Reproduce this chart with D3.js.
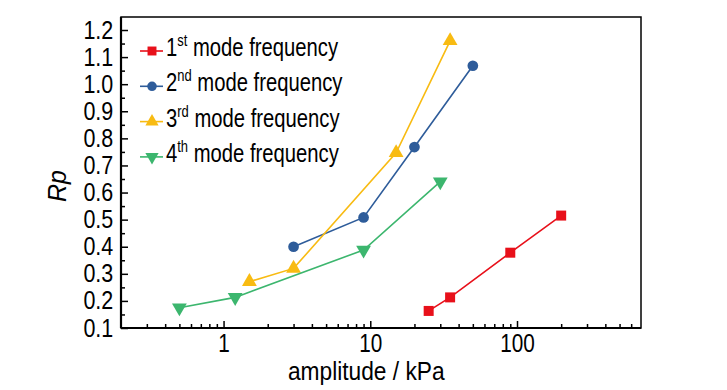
<!DOCTYPE html>
<meta charset="utf-8">
<style>
body { margin: 0; background: #fff; }
text { font-family: "Liberation Sans", Arial, sans-serif; fill: #000; }
.frame { fill: none; stroke: #000; stroke-width: 1.5px; }
.axis path { display: none; }
.axis line { stroke: #000; stroke-width: 1.5px; }
</style>
<body>
<script src="https://cdnjs.cloudflare.com/ajax/libs/d3/7.8.5/d3.min.js"></script>
<script>

// data
var seriesOrd = ["1", "2", "3", "4"];
var seriesSup = ["st", "nd", "rd", "th"];
var colors = ["#e8101a", "#2e5c9a", "#f8bb12", "#3cb66e"];

var amp1 = [25, 35, 90, 200];
var rp1  = [0.163, 0.213, 0.378, 0.515];
var amp2 = [3, 9, 20, 50];
var rp2  = [0.40, 0.508, 0.768, 1.068];
var amp3 = [1.5, 3, 15, 35];
var rp3  = [0.271, 0.320, 0.747, 1.160];
var amp4 = [0.5, 1.2, 9, 30];
var rp4  = [0.175, 0.213, 0.388, 0.640];

var xTickVals = [1, 10, 100];
var yTickVals = [0.1, 0.2, 0.3, 0.4, 0.5, 0.6, 0.7, 0.8, 0.9, 1.0, 1.1, 1.2];

var width = 727, height = 390;
var margin = {left: 121, top: 17, right: 86, bottom: 62};
var w = width - margin.left - margin.right,
    h = height - margin.top - margin.bottom;

// the original uses a narrow face, squeeze the text a bit
var squeeze = 0.86;

var svg = d3.select("body").append("svg")
    .attr("width", width)
    .attr("height", height);

var g = svg.append("g")
    .attr("transform", "translate(" + margin.left + "," + margin.top + ")");

var x = d3.scaleLog().domain([0.2, 700]).range([0, w]);
var y = d3.scaleLinear().domain([0.1, 1.248]).range([h, 0]);

// minor ticks
var xMinor = [];
[0.1, 1, 10, 100].forEach(function(d) {
  for (var k = 2; k <= 9; k++) {
    var v = d * k;
    if (v > 0.2 && v < 700) xMinor.push(v);
  }
});
var yMinor = d3.range(0.15, 1.25, 0.1);

g.append("g").attr("class", "axis")
    .attr("transform", "translate(0," + h + ")")
    .call(d3.axisBottom(x).tickValues(xMinor).tickSize(-4).tickFormat(""));
g.append("g").attr("class", "axis")
    .attr("transform", "translate(0," + h + ")")
    .call(d3.axisBottom(x).tickValues(xTickVals).tickSize(-7).tickPadding(6)
      .tickFormat(d3.format("d")))
    .selectAll("text")
      .style("font-size", "25px")
      .attr("transform", "scale(" + (squeeze - 0.03) + ",1)");

g.append("g").attr("class", "axis")
    .call(d3.axisLeft(y).tickValues(yMinor).tickSize(-4).tickFormat(""));
g.append("g").attr("class", "axis")
    .call(d3.axisLeft(y).tickValues(yTickVals).tickSize(-7).tickPadding(9)
      .tickFormat(d3.format(".1f")))
    .selectAll("text")
      .style("font-size", "25px")
      .attr("transform", "scale(" + squeeze + ",1)");

g.append("rect")
    .attr("class", "frame")
    .attr("width", w)
    .attr("height", h);
g.append("line").attr("x1", 0).attr("x2", 0).attr("y1", 0).attr("y2", h)
    .attr("stroke", "#000").attr("stroke-width", 2.2);
g.append("line").attr("x1", 0).attr("x2", w).attr("y1", h).attr("y2", h)
    .attr("stroke", "#000").attr("stroke-width", 2.2);

// axis titles
svg.append("text")
    .attr("transform", "translate(" + (margin.left + x(10) - 4) + ",380) scale(0.91,1)")
    .attr("text-anchor", "middle")
    .style("font-size", "25px")
    .text("amplitude / kPa");

svg.append("text")
    .attr("transform", "translate(66,186) rotate(-90)")
    .attr("text-anchor", "middle")
    .style("font-size", "25px")
    .style("font-style", "italic")
    .text("Rp");

var series = [
  {amp: amp1, rp: rp1, sym: d3.symbolSquare, rot: 0, size: 100},
  {amp: amp2, rp: rp2, sym: d3.symbolCircle, rot: 0, size: 90},
  {amp: amp3, rp: rp3, sym: d3.symbolTriangle, rot: 0, size: 95},
  {amp: amp4, rp: rp4, sym: d3.symbolTriangle, rot: 180, size: 95}
];

var line = d3.line()
    .x(function(d) { return x(d[0]); })
    .y(function(d) { return y(d[1]); });

series.forEach(function(s, i) {
  var pts = d3.zip(s.amp, s.rp);
  g.append("path")
      .datum(pts)
      .attr("fill", "none")
      .attr("stroke", colors[i])
      .attr("stroke-width", 1.6)
      .attr("d", line);
  g.selectAll(".m" + i)
      .data(pts)
    .enter().append("path")
      .attr("class", "m" + i)
      .attr("fill", colors[i])
      .attr("transform", function(d) {
        return "translate(" + x(d[0]) + "," + y(d[1]) + ") rotate(" + s.rot + ")";
      })
      .attr("d", d3.symbol().type(s.sym).size(s.size));
});

// legend
var legend = svg.append("g").attr("transform", "translate(140,51)");
series.forEach(function(s, i) {
  var row = legend.append("g").attr("transform", "translate(0," + (i * 35.3) + ")");
  row.append("line")
      .attr("x1", 0).attr("x2", 23)
      .attr("stroke", colors[i]).attr("stroke-width", 1.6);
  row.append("path")
      .attr("fill", colors[i])
      .attr("transform", "translate(12,0) rotate(" + s.rot + ")")
      .attr("d", d3.symbol().type(s.sym).size(s.size * 0.8));
  var t = row.append("text")
      .attr("transform", "translate(26,5) scale(0.81,1)")
      .style("font-size", "25px");
  t.append("tspan").text(seriesOrd[i]);
  t.append("tspan").attr("dy", -10).style("font-size", "16px").text(seriesSup[i]);
  t.append("tspan").attr("dy", 10).text(" mode frequency");
});

</script>
